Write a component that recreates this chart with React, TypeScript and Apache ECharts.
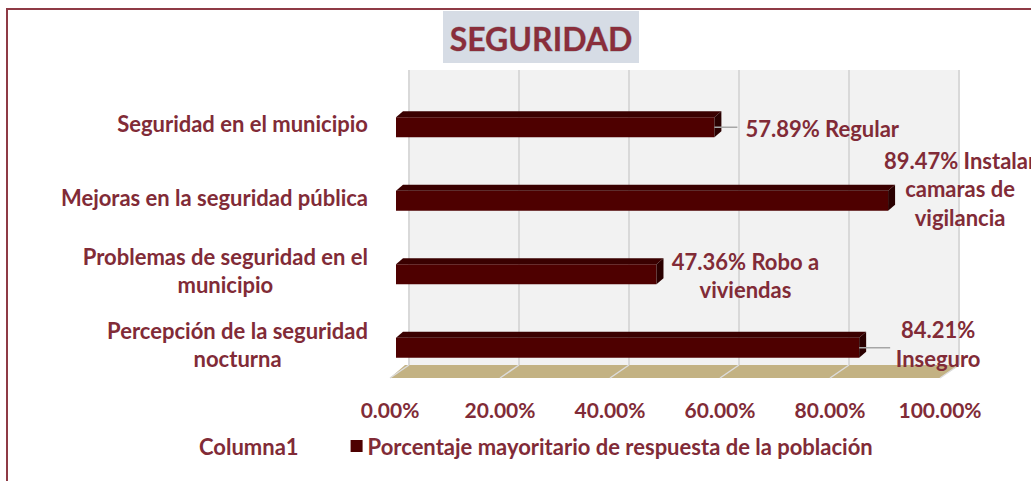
import React, { useEffect, useRef } from "react";
import * as echarts from "echarts";

const categories = [
  "Seguridad en el municipio",
  "Mejoras en la seguridad pública",
  "Problemas de seguridad en el\nmunicipio",
  "Percepción de la seguridad\nnocturna",
];
const values = [57.89, 89.47, 47.36, 84.21];
const answers = ["Regular", "Instalar\ncamaras de\nvigilancia", "Robo a\nviviendas", "Inseguro"];
const answerSeparators = [" ", " ", " ", "\n"];
const xTicks = [0, 20, 40, 60, 80, 100];
const seriesName = "Porcentaje mayoritario de respuesta de la población";
const emptySeriesName = "Columna1";
const titleText = "SEGURIDAD";

// label layout (style): offsets from the bar's front-right corner / centre
const labelLayout = [
  { dx: 31, dy: 1, align: "left", leader: 23 },
  { dx: 72, dy: -12, align: "center", leader: 0 },
  { dx: 89, dy: 1, align: "center", leader: 0 },
  { dx: 79, dy: -4, align: "center", leader: 31 },
];

const FONT = "Lato, 'Open Sans', sans-serif";
const TEXT = "#812B37";
const BAR_FRONT = "#4E0000";
const BAR_TOP = "#3A0000";
const BAR_SIDE = "#2A0000";
const WALL = "#F2F2F2";
const GRIDLINE = "#D9D9D9";
const FLOOR = "#C3B283";
const LABEL_SIZE = 22;
const TICK_SIZE = 21;

const BACK_DX = 19;
const BACK_DY = 13;
const BAR_DX = 6;
const BAR_DEPTH_X = 7;
const BAR_DEPTH_Y = 6;

export default function App() {
  const ref = useRef<HTMLDivElement>(null);
  useEffect(() => {
    if (!ref.current) return;
    const chart = echarts.init(ref.current, null, { renderer: "svg" });

    const wallSeries = {
      type: "custom",
      name: "wall",
      silent: true,
      clip: false,
      z: 1,
      encode: { x: 0, y: 1 },
      data: xTicks.map((t) => [t, 0]),
      renderItem: (params: any, api: any) => {
        const cs = params.coordSys;
        const front = api.coord([api.value(0), 0]);
        const x0 = api.coord([xTicks[0], 0])[0];
        const x1 = api.coord([xTicks[xTicks.length - 1], 0])[0];
        const floorFront = cs.y + cs.height - 3;
        const floorBack = floorFront - BACK_DY;
        const wallTop = cs.y - 17;
        const children: any[] = [];
        if (params.dataIndex === 0) {
          children.push({
            type: "rect",
            shape: { x: x0 + BACK_DX, y: wallTop, width: x1 - x0, height: floorBack - wallTop },
            style: { fill: WALL },
          });
          children.push({
            type: "polygon",
            shape: {
              points: [
                [x0 + BACK_DX - 4, floorBack],
                [x1 + BACK_DX, floorBack],
                [x1, floorFront],
                [x0, floorFront],
              ],
            },
            style: { fill: FLOOR },
          });
        }
        const bx = front[0] + BACK_DX;
        children.push({
          type: "line",
          shape: { x1: bx, y1: wallTop, x2: bx, y2: floorBack },
          style: { stroke: GRIDLINE, lineWidth: 2 },
        });
        children.push({
          type: "line",
          shape: { x1: bx, y1: floorBack, x2: front[0], y2: floorFront },
          style: { stroke: "#DCDCDC", lineWidth: 1.5 },
        });
        return { type: "group", children };
      },
    };

    const barSeries = {
      type: "custom",
      name: seriesName,
      clip: false,
      z: 3,
      itemStyle: { color: BAR_FRONT },
      encode: { x: 0, y: 1 },
      data: values.map((v, i) => [v, i]),
      renderItem: (params: any, api: any) => {
        const idx = api.value(1);
        const v = api.value(0);
        const end = api.coord([v, idx]);
        const start = api.coord([0, idx]);
        const xs = start[0] + BAR_DX;
        const xe = end[0] + BAR_DX;
        const yc = end[1] + 3.5;
        const top = yc - 10;
        const bottom = yc + 10;
        const lay = labelLayout[params.dataIndex];
        const text = `${v.toFixed(2)}%${answerSeparators[params.dataIndex]}${answers[params.dataIndex]}`;
        const children: any[] = [
          {
            type: "rect",
            shape: { x: xs, y: top, width: xe - xs, height: bottom - top },
            style: { fill: BAR_FRONT },
          },
          {
            type: "polygon",
            shape: {
              points: [
                [xs, top],
                [xs + BAR_DEPTH_X, top - BAR_DEPTH_Y],
                [xe + BAR_DEPTH_X, top - BAR_DEPTH_Y],
                [xe, top],
              ],
            },
            style: { fill: BAR_TOP },
          },
          {
            type: "polygon",
            shape: {
              points: [
                [xe, top],
                [xe + BAR_DEPTH_X, top - BAR_DEPTH_Y],
                [xe + BAR_DEPTH_X, bottom - BAR_DEPTH_Y],
                [xe, bottom],
              ],
            },
            style: { fill: BAR_SIDE },
          },
        ];
        if (lay.leader > 0) {
          children.push({
            type: "line",
            shape: { x1: xe, y1: yc, x2: xe + lay.leader, y2: yc },
            style: { stroke: "#A6A6A6", lineWidth: 1.5 },
          });
        }
        children.push({
          type: "text",
          style: {
            text,
            x: xe + lay.dx,
            y: yc + lay.dy,
            align: lay.align,
            verticalAlign: "middle",
            fontSize: LABEL_SIZE,
            fontWeight: "bold",
            fontFamily: FONT,
            lineHeight: 28.5,
            fill: TEXT,
          },
        });
        return { type: "group", children };
      },
    };

    chart.setOption({
      animation: false,
      backgroundColor: "#ffffff",
      grid: { left: 390, width: 550, top: 87, height: 294, containLabel: false },
      xAxis: {
        type: "value",
        min: 0,
        max: 100,
        interval: 20,
        splitLine: { show: false },
        axisLine: { show: false },
        axisTick: { show: false },
        axisLabel: {
          margin: 18,
          formatter: (val: number) => `${val.toFixed(2)}%`,
          fontSize: TICK_SIZE,
          fontWeight: "bold",
          fontFamily: FONT,
          color: TEXT,
        },
      },
      yAxis: {
        type: "category",
        inverse: true,
        data: categories,
        axisLine: { show: false },
        axisTick: { show: false },
        splitLine: { show: false },
        axisLabel: {
          margin: 22,
          fontSize: LABEL_SIZE,
          fontWeight: "bold",
          fontFamily: FONT,
          color: TEXT,
          lineHeight: 28,
          formatter: (val: string) =>
            val
              .split("\n")
              .map((l) => `{c|${l}}`)
              .join("\n"),
          rich: {
            c: {
              align: "center",
              fontSize: LABEL_SIZE,
              fontWeight: "bold",
              fontFamily: FONT,
              color: TEXT,
              lineHeight: 28,
            },
          },
        },
      },
      legend: {
        left: 177,
        top: 430,
        itemWidth: 12,
        itemHeight: 12,
        itemGap: 52,
        selectedMode: false,
        textStyle: { fontSize: LABEL_SIZE, fontWeight: "bold", fontFamily: FONT, color: TEXT },
        data: [
          { name: emptySeriesName, icon: "none" },
          { name: seriesName, icon: "rect", itemStyle: { color: BAR_FRONT } },
        ],
      },
      graphic: [
        {
          type: "rect",
          shape: { x: 7, y: 9, width: 1200, height: 600 },
          style: { fill: "none", stroke: "#8E3A45", lineWidth: 2 },
          z: 0,
        },
        {
          type: "rect",
          shape: { x: 443, y: 11, width: 196, height: 52 },
          style: { fill: "#D6DCE5" },
          z: 5,
        },
        {
          type: "text",
          x: 541,
          y: 38,
          z: 6,
          style: {
            text: titleText,
            align: "center",
            verticalAlign: "middle",
            fontSize: 32,
            fontWeight: "bold",
            fontFamily: FONT,
            fill: "#8A2E3B",
            stroke: "rgba(120,120,120,0.55)",
            lineWidth: 0.8,
          },
        },
      ],
      series: [
        { type: "bar", name: emptySeriesName, data: [] },
        wallSeries,
        barSeries,
      ],
    });
    return () => chart.dispose();
  }, []);
  return (
    <div
      ref={ref}
      style={{ position: "fixed", left: 0, top: 0, width: 1031, height: 481, background: "#fff" }}
    />
  );
}
